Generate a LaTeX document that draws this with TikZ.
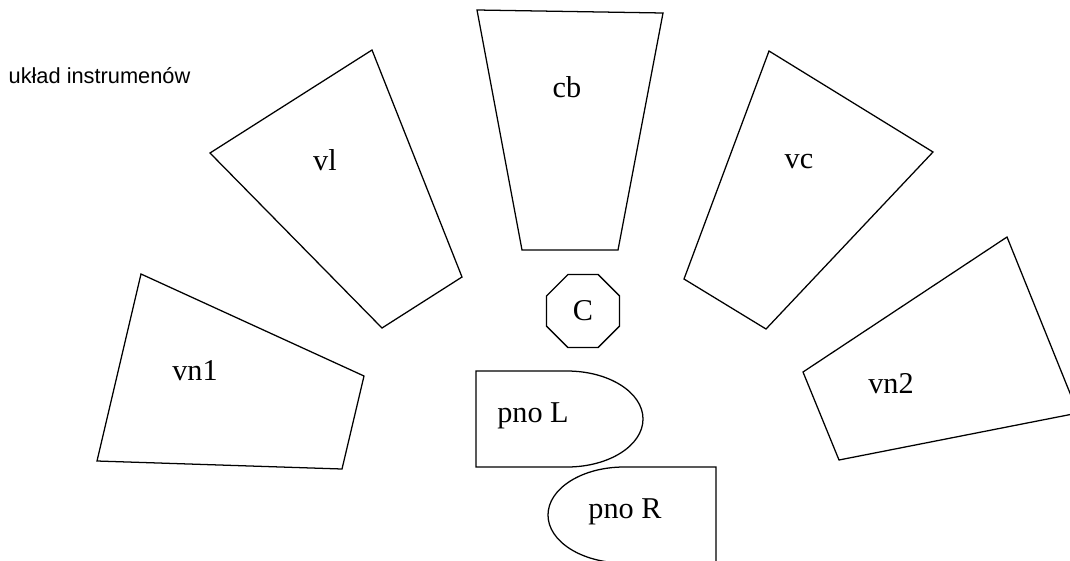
\documentclass[tikz,border=0pt]{standalone}
\usepackage{fontspec}
\setmainfont{Liberation Serif}
\newfontfamily\titlefont{Liberation Sans}
\usetikzlibrary{shapes.geometric}

\begin{document}
\begin{tikzpicture}[x=0.025cm,y=-0.025cm,line width=0.9pt,line join=miter]
        \useasboundingbox (0,0) rectangle (1070,560);
        \node[anchor=west,inner sep=0pt,font=\titlefont\fontsize{15.5}{18}\selectfont] (title) at (8,76) {układ instrumenów};
        \begin{scope}
            \clip (0,0) rectangle (1070,560);
            \draw (210,153) -- (372,50) -- (462,277) -- (382,328) -- cycle;
            \draw (477,10) -- (663,13) -- (618,250) -- (522,250) -- cycle;
            \draw (769,51) -- (933,152) -- (766,329) -- (684,279) -- cycle;
            \draw (141,274) -- (364,376) -- (342,469) -- (97,461) -- cycle;
            \draw (1007,237) -- (1078,413) -- (839,460) -- (803,372) -- cycle;
            % piano
            \draw (567,371) -- (476,371) -- (476,467) -- (567,467) arc[start angle=90,end angle=-90,x radius=76,y radius=48] -- cycle;
            \draw (624,467) -- (716,467) -- (716,563) -- (624,563) arc[start angle=90,end angle=270,x radius=76,y radius=48] -- cycle;
        \end{scope}
        \node[draw,regular polygon,regular polygon sides=8,minimum size=1.975cm,inner sep=0pt,font=\fontsize{21.5}{24}\selectfont] (C) at (583,311) {C};
        \foreach \n/\t/\x/\y in {vl/vl/325/170,cb/cb/567/97,vc/vc/799/168,vn1/vn1/195/380,vn2/vn2/891/393,pnoL/pno L/533/422,pnoR/pno R/625/518}{
            \node[anchor=base,inner sep=0pt,font=\fontsize{21.5}{24}\selectfont] (\n) at (\x,\y) {\t};
        }
\end{tikzpicture}
\end{document}
